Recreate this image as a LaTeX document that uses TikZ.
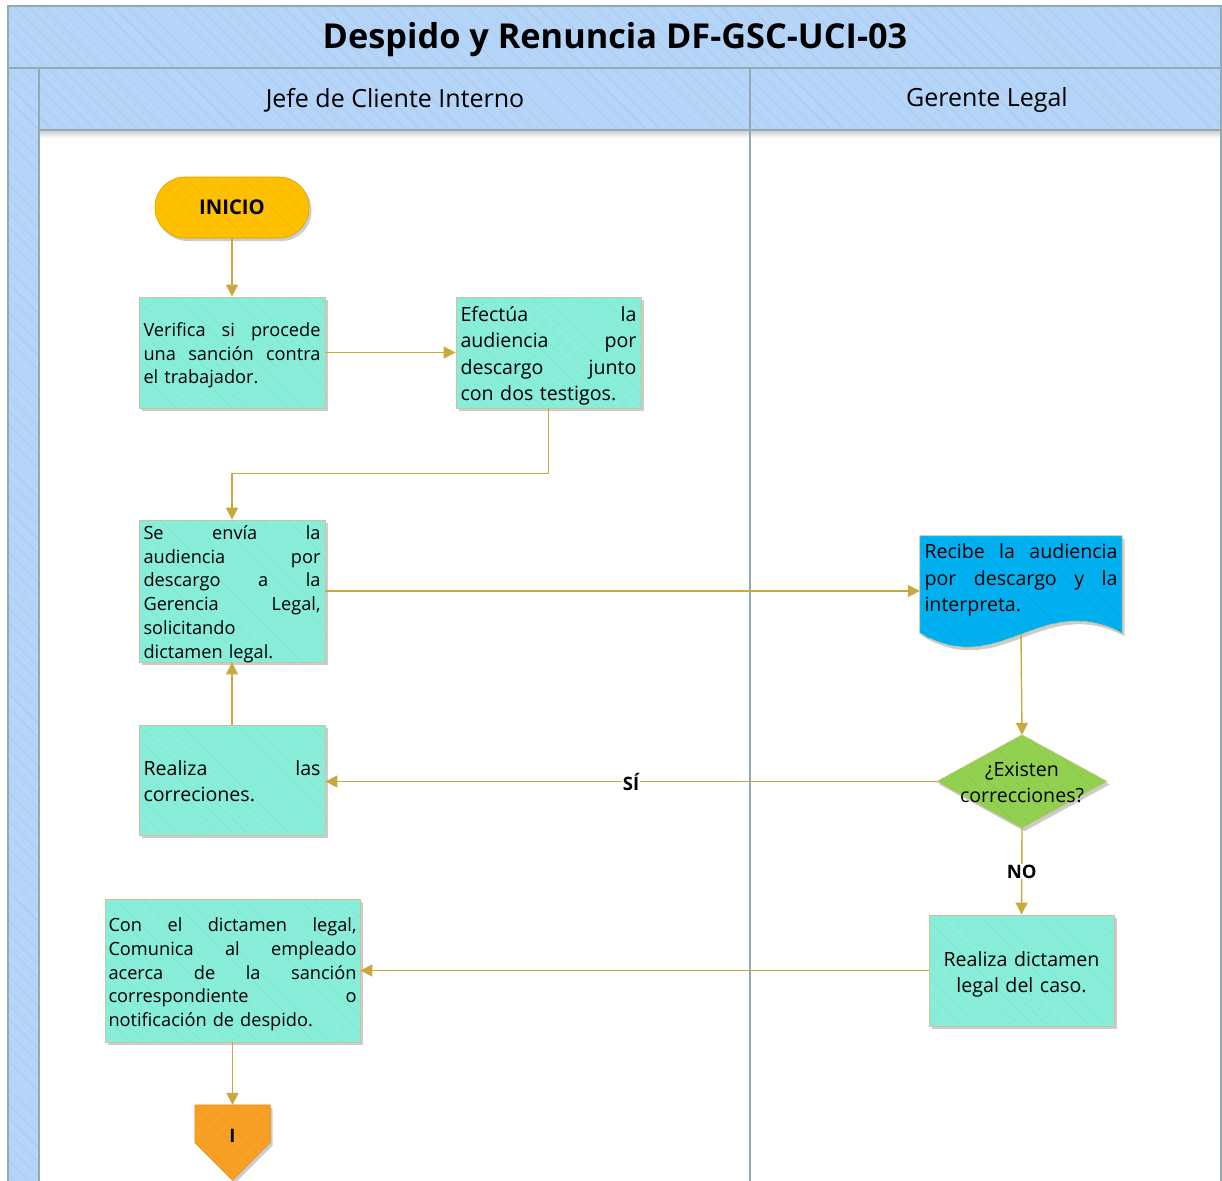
\documentclass[tikz,border=0pt]{standalone}
\usepackage{fontspec}
\setmainfont{Open Sans}
\usetikzlibrary{arrows.meta,shapes.geometric,shadows,patterns.meta,calc}
\definecolor{hdr}{RGB}{180,212,248}
\definecolor{lanel}{RGB}{148,170,178}
\definecolor{procf}{RGB}{136,238,218}
\definecolor{procl}{RGB}{206,196,150}
\definecolor{startf}{RGB}{255,192,0}
\definecolor{docf}{RGB}{0,176,240}
\definecolor{decf}{RGB}{146,208,80}
\definecolor{offf}{RGB}{248,160,36}
\definecolor{arrc}{RGB}{201,168,62}
\newcommand\jl[1]{\hbox to\hsize{#1}}
\newcommand\tdn[1]{\par\kern-#1}
\tikzset{
  hatch/.style={postaction={pattern={Lines[angle=-45,distance=10pt,line width=0.5pt]},pattern color=#1}},
  shad/.style={drop shadow={shadow xshift=2.5pt,shadow yshift=-3pt,opacity=0.2,fill=black}},
  lanebox/.style={draw=lanel,line width=1.2pt},
  proc/.style={rectangle,draw=procl,line width=0.8pt,fill=procf,inner sep=0pt,shad,hatch=procf!95!black,align=left},
  fa/.style={font=\fontsize{18.2}{23.7}\selectfont},
  fb/.style={font=\fontsize{19.6}{26.5}\selectfont},
  conn/.style={draw=arrc,line width=1.4pt,-{Triangle[length=12pt,width=12pt]}},
  lbl/.style={fill=white,inner sep=1pt,font=\fontsize{18.5}{20}\selectfont\bfseries}
}
\begin{document}
\begin{tikzpicture}[x=1pt,y=-1pt]
\useasboundingbox (0,0) rectangle (1222,1180);
\clip (0,0) rectangle (1222,1180);
% pool and lanes
\fill[white] (8,6) rectangle (1221,1190);
\path[fill=hdr,hatch=hdr!94!black] (8,6) rectangle (1221,68);
\path[fill=hdr,hatch=hdr!94!black] (8,68) rectangle (39,1190);
\path[fill=hdr,hatch=hdr!94!black] (39,68) rectangle (1221,130);
\fill[top color=black!18,bottom color=white] (39,131) rectangle (1221,138);
\draw[lanebox] (8,6) rectangle (1221,1190);
\draw[lanebox] (8,68) -- (1221,68);
\draw[lanebox] (39,68) -- (39,1190);
\draw[lanebox] (39,130) -- (1221,130);
\draw[lanebox] (750,68) -- (750,1190);
\node (title) at (615,40) {\fontsize{34.3}{40}\selectfont\bfseries Despido y Renuncia DF-GSC-UCI-03};
\node (lane1) at (395,100.5) {\fontsize{25}{30}\selectfont Jefe de Cliente Interno};
\node (lane2) at (987,100.5) {\fontsize{25}{30}\selectfont Gerente Legal};
% nodes
\node[rectangle,rounded corners=30pt,fill=startf,draw=startf!85!black,line width=0.6pt,minimum width=154pt,minimum height=61pt,shad,hatch=startf!95!black,font=\fontsize{20.3}{24}\selectfont\bfseries] (inicio) at (232,207.5) {INICIO};
\node[proc,fa,minimum width=186pt,minimum height=111pt,text width=177pt] (verifica) at (232,352.5)
  {\jl{Verifica\hfill si\hfill procede}\par\jl{una\hfill sanción\hfill contra}\par el trabajador.\tdn{6pt}};
\node[proc,fb,minimum width=185pt,minimum height=111pt,text width=176pt] (efectua) at (548.5,352.5)
  {\jl{Efectúa\hfill la}\par\jl{audiencia\hfill por}\par\jl{descargo\hfill junto}\par con dos testigos.\tdn{7pt}};
\node[proc,fa,minimum width=186pt,minimum height=142pt,text width=177pt] (seenvia) at (232,591)
  {\jl{Se\hfill envía\hfill la}\par\jl{audiencia\hfill por}\par\jl{descargo\hfill a\hfill la}\par\jl{Gerencia\hfill Legal,}\par solicitando\par dictamen legal.\tdn{6pt}};
\node[proc,fb,minimum width=186pt,minimum height=110pt,text width=177pt] (correc) at (232,780)
  {\jl{Realiza\hfill las}\par correciones.\tdn{2pt}};
\node[proc,fa,minimum width=255pt,minimum height=143pt,text width=248pt] (comunica) at (232.5,970.5)
  {\jl{Con\hfill el\hfill dictamen\hfill legal,}\par\jl{Comunica\hfill al\hfill empleado}\par\jl{acerca\hfill de\hfill la\hfill sanción}\par\jl{correspondiente\hfill o}\par notificación de despido.\tdn{8pt}};
\node[proc,fb,minimum width=185pt,minimum height=111pt,text width=178pt,align=center] (dictamen) at (1021.5,970.5)
  {Realiza dictamen\\legal del caso.\tdn{8pt}};
% document shape
\node[rectangle,inner sep=0pt,minimum width=202pt,minimum height=84pt] (recibe) at (1021,578) {};
\path[fill=docf,draw=procl,line width=0.8pt,shad,hatch=docf!93!black]
  (recibe.north west) -- (recibe.north east) -- ([yshift=-13pt]recibe.south east)
  .. controls +(-82,-43) and +(80,47) .. ([yshift=-13pt]recibe.south west) -- cycle;
\node[rectangle,inner sep=0pt,text width=193pt,fb,align=left] (recibetxt) at (recibe.center)
  {\jl{Recibe\hfill la\hfill audiencia}\par\jl{por\hfill descargo\hfill y\hfill la}\par interpreta.\tdn{4pt}};
\coordinate (recibebot) at ([yshift=-14pt]recibe.south);
% decision
\node[rectangle,inner sep=0pt,minimum width=170pt,minimum height=93pt] (dec) at (1022,781.5) {};
\path[fill=decf,draw=procl,line width=0.6pt,shad,hatch=decf!95!black] (dec.north) -- (dec.east) -- (dec.south) -- (dec.west) -- cycle;
\node[fb,align=center,inner sep=0pt] (dectxt) at ([yshift=-1pt]dec.center) {¿Existen\\correcciones?};
% off-page connector
\node[rectangle,inner sep=0pt,minimum width=75pt,minimum height=75pt] (off) at (232.5,1142.5) {};
\path[fill=offf,draw=offf!90!black,line width=0.6pt,shad,hatch=offf!95!black] (off.north west) -- (off.north east) -- (off.east) -- (off.south) -- (off.west) -- cycle;
\node[font=\fontsize{18.5}{20}\selectfont\bfseries] (offtxt) at ([yshift=7pt]off.center) {I};
% connectors
\draw[conn] (inicio.south) -- (verifica.north);
\draw[conn] (verifica.east) -- (efectua.west);
\draw[conn] (efectua.south) -- ++(0,65) -| (seenvia.north);
\draw[conn] (seenvia.east) -- (seenvia.east -| recibe.west);
\draw[conn] (recibebot) -- (dec.north);
\draw[conn] (dec.west) -- node[lbl,pos=0.5] {SÍ} (dec.west -| correc.east);
\draw[conn] (correc.north) -- (seenvia.south);
\draw[conn] (dec.south) -- node[lbl,pos=0.5] {NO} (dictamen.north);
\draw[conn] (dictamen.west) -- (dictamen.west -| comunica.east);
\draw[conn] (comunica.south) -- (off.north);
\end{tikzpicture}
\end{document}
